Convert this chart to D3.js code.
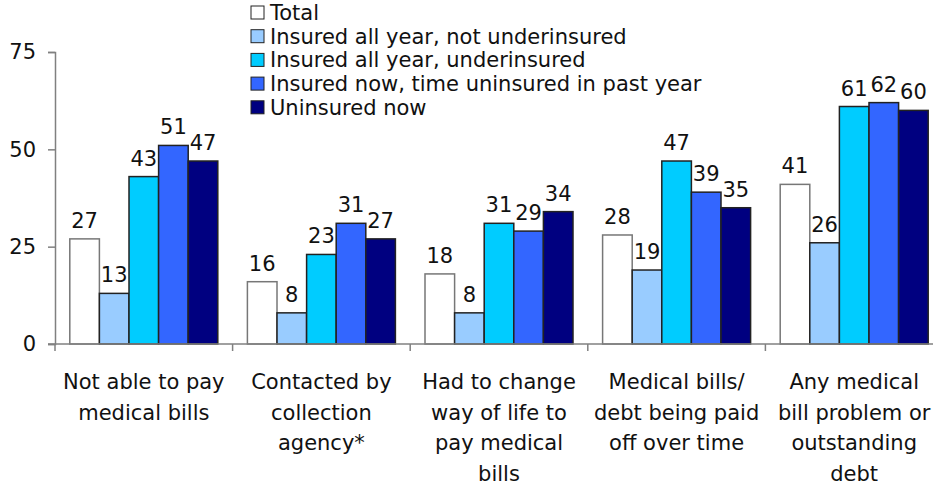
<!DOCTYPE html>
<html lang="en">
<head>
<meta charset="UTF-8">
<title>Medical bill problems by insurance status</title>
<script src="https://d3js.org/d3.v7.min.js"></script>
<style>
    body { margin: 0; background: white; }
    text { font-family: "DejaVu Sans", Verdana, sans-serif; fill: #111; }
</style>
</head>
<body>
<svg id="chart"></svg>
<script>
// data
var categories = [
    ["Not able to pay", "medical bills"],
    ["Contacted by", "collection", "agency*"],
    ["Had to change", "way of life to", "pay medical", "bills"],
    ["Medical bills/", "debt being paid", "off over time"],
    ["Any medical", "bill problem or", "outstanding", "debt"]
];
var seriesNames = [
    "Total",
    "Insured all year, not underinsured",
    "Insured all year, underinsured",
    "Insured now, time uninsured in past year",
    "Uninsured now"
];
var seriesColors = ["#ffffff", "#99ccff", "#00ccff", "#3366ff", "#000080"];
var total        = [27, 16, 18, 28, 41];
var notUnder     = [13, 8, 8, 19, 26];
var under        = [43, 23, 31, 47, 61];
var uninsPast    = [51, 31, 29, 39, 62];
var uninsNow     = [47, 27, 34, 35, 60];
var yTicks = [0, 25, 50, 75];

var values = [total, notUnder, under, uninsPast, uninsNow];

var width = 933, height = 488;
var fontSize = "21px";
var svg = d3.select("#chart").attr("width", width).attr("height", height);

var x0 = d3.scaleBand()
    .domain(d3.range(categories.length))
    .range([55, 943])
    .padding(0);

var x1 = d3.scaleBand()
    .domain(d3.range(seriesNames.length))
    .range([0, x0.bandwidth()])
    .paddingInner(0)
    .paddingOuter(0.5);

var y = d3.scaleLinear().domain([0, 75]).range([344, 52]);

// y axis
var yAxis = svg.append("g")
    .attr("transform", "translate(55,0)")
    .call(d3.axisLeft(y).tickValues(yTicks).tickSize(7).tickPadding(12));
yAxis.select(".domain").attr("stroke", "#808080").attr("stroke-width", 1.5);
yAxis.selectAll(".tick line").attr("stroke", "#808080").attr("stroke-width", 1.5);
yAxis.selectAll(".tick text").style("font-size", fontSize).attr("fill", "#111");

// bars
var groups = svg.selectAll(".grp")
    .data(categories)
    .enter().append("g")
    .attr("class", "grp")
    .attr("transform", function (d, i) { return "translate(" + x0(i) + ",0)"; });

groups.selectAll("rect")
    .data(function (d, i) { return values.map(function (s, j) { return { s: j, v: s[i] }; }); })
    .enter().append("rect")
    .attr("x", function (d) { return x1(d.s); })
    .attr("y", function (d) { return y(d.v); })
    .attr("width", x1.bandwidth())
    .attr("height", function (d) { return y(0) - y(d.v); })
    .attr("fill", function (d) { return seriesColors[d.s]; })
    .attr("stroke", function (d) { return d.s === 0 ? "#777" : "#222"; })
    .attr("stroke-width", 1.5);

groups.selectAll(".val")
    .data(function (d, i) { return values.map(function (s, j) { return { s: j, v: s[i] }; }); })
    .enter().append("text")
    .attr("class", "val")
    .attr("x", function (d) { return x1(d.s) + x1.bandwidth() / 2; })
    .attr("y", function (d) { return y(d.v) - 11; })
    .attr("text-anchor", "middle")
    .style("font-size", fontSize)
    .text(function (d) { return d.v; });

// x axis
var xAxis = svg.append("g").attr("transform", "translate(0,344)");
xAxis.append("line")
    .attr("x1", 48).attr("x2", 943)
    .attr("stroke", "#808080").attr("stroke-width", 1.5);
xAxis.selectAll(".xt")
    .data(d3.range(categories.length + 1))
    .enter().append("line")
    .attr("x1", function (d) { return x0.range()[0] + d * x0.step(); })
    .attr("x2", function (d) { return x0.range()[0] + d * x0.step(); })
    .attr("y1", 0).attr("y2", 7)
    .attr("stroke", "#808080").attr("stroke-width", 1.5);

// category labels
svg.selectAll(".cat")
    .data(categories)
    .enter().append("text")
    .attr("class", "cat")
    .attr("text-anchor", "middle")
    .style("font-size", fontSize)
    .each(function (lines, i) {
        var t = d3.select(this);
        lines.forEach(function (l, k) {
            t.append("tspan")
                .attr("x", x0(i) + x0.bandwidth() / 2)
                .attr("y", 389 + k * 30.7)
                .text(l);
        });
    });

// legend
var legend = svg.append("g").attr("transform", "translate(251,6)");
var items = legend.selectAll(".lg")
    .data(seriesNames)
    .enter().append("g")
    .attr("transform", function (d, i) { return "translate(0," + i * 23.7 + ")"; });
items.append("rect")
    .attr("width", 13).attr("height", 13)
    .attr("fill", function (d, i) { return seriesColors[i]; })
    .attr("stroke", "#222").attr("stroke-width", 1);
items.append("text")
    .attr("x", 19).attr("y", 14)
    .style("font-size", fontSize)
    .text(function (d) { return d; });
</script>
</body>
</html>
